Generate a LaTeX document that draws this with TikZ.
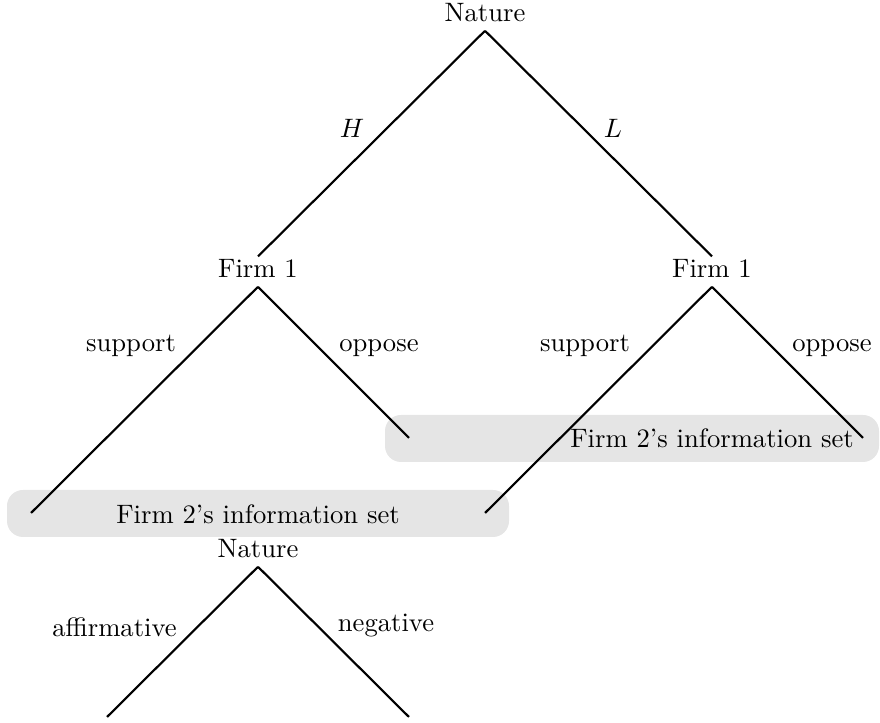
\documentclass[tikz,border=0pt]{standalone}
\usetikzlibrary{positioning}

\tikzset{
  player/.style={anchor=base,inner sep=1pt,text height=6.9pt,text depth=2.1pt},
  move/.style={anchor=base},
  branch/.style={thick},
  infoset/.style={fill=black!10,rounded corners=6pt},
}

\begin{document}
\begin{tikzpicture}[x=0.3755pt,y=-0.3755pt]
  \useasboundingbox (0,0) rectangle (880,723);

  % information sets of firm 2
  \path[infoset] (385,415) rectangle (879,462);
  \path[infoset] (7,490) rectangle (509,537);

  \node[player] (nat) at (485,22) {Nature};
  \node[player] (firmH) at (258,278) {Firm 1};
  \node[player] (firmL) at (712,278) {Firm 1};
  \node[player] (sig) at (258,558) {Nature};

  \coordinate (HS) at (31,513);
  \coordinate (HO) at (409,438);
  \coordinate (LS) at (485,513);
  \coordinate (LO) at (863,438);
  \coordinate (aff) at (107,717);
  \coordinate (neg) at (409,717);

  \draw[branch] (nat.south) -- (firmH.north);
  \draw[branch] (nat.south) -- (firmL.north);
  \draw[branch] (firmH.south) -- (HS);
  \draw[branch] (firmH.south) -- (HO);
  \draw[branch] (firmL.south) -- (LS);
  \draw[branch] (firmL.south) -- (LO);
  \draw[branch] (sig.south) -- (aff);
  \draw[branch] (sig.south) -- (neg);

  \node[move] (lblH) at (352,138) {$H$};
  \node[move] (lblL) at (613,138) {$L$};
  \node[move] (lblHS) at (131,352) {support};
  \node[move] (lblHO) at (379,352) {oppose};
  \node[move] (lblLS) at (585,352) {support};
  \node[move] (lblLO) at (832,352) {oppose};
  \node[move] (lblaff) at (114.5,636.5) {affirmative};
  \node[move] (lblneg) at (386,631.5) {negative};

  \node (set1) at (712,438.5) {Firm 2's information set};
  \node (set2) at (258,514) {Firm 2's information set};
\end{tikzpicture}
\end{document}
